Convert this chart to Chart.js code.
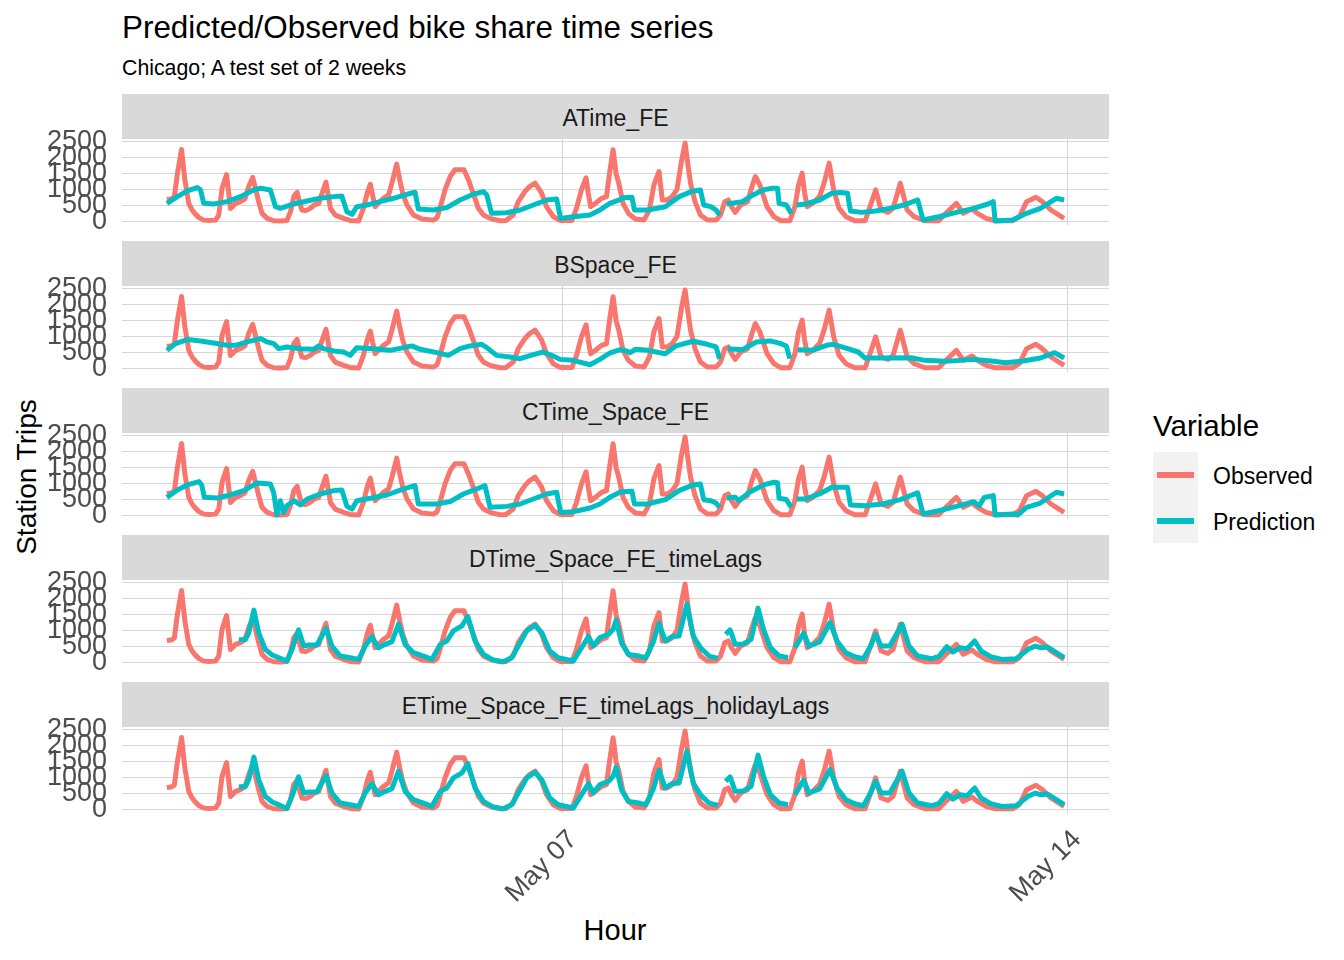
<!DOCTYPE html>
<html>
<head>
<meta charset="utf-8">
<title>Predicted/Observed bike share time series</title>
<script src="https://cdn.jsdelivr.net/npm/chart.js@4.4.1/dist/chart.umd.min.js"></script>
<style>
  body { margin: 0; background: #fff; font-family: "Liberation Sans", Arial, sans-serif; }
  #fig { position: relative; width: 1344px; height: 960px; overflow: hidden; background: #fff; }
  .txt { position: absolute; white-space: nowrap; line-height: 1; color: #000; }
  .strip { position: absolute; left: 122px; width: 987px; height: 45px; background: #D9D9D9; box-sizing: border-box;
           padding-top: 3px; color: #1A1A1A; font-size: 23px; display: flex; align-items: center; justify-content: center; }
  canvas { position: absolute; left: 0; }
</style>
</head>
<body>
<div id="fig">
  <div class="txt" style="left:122px;top:12px;font-size:31.4px;">Predicted/Observed bike share time series</div>
  <div class="txt" style="left:122px;top:58px;font-size:21.3px;">Chicago; A test set of 2 weeks</div>
  <div class="txt" style="left:27px;top:477px;font-size:28px;transform:translate(-50%,-50%) rotate(-90deg);">Station Trips</div>
  <div class="txt" style="left:615px;top:930px;font-size:29px;transform:translate(-50%,-50%);">Hour</div>

  <!-- legend -->
  <div class="txt" style="left:1153px;top:411px;font-size:29.5px;">Variable</div>
  <div style="position:absolute;left:1153px;top:452px;width:45px;height:91px;background:#F2F2F2;"></div>
  <div id="keyObs" style="position:absolute;left:1157px;top:472px;width:37px;height:6px;"></div>
  <div id="keyPred" style="position:absolute;left:1157px;top:518px;width:37px;height:6px;"></div>
  <div class="txt" style="left:1213px;top:465px;font-size:23px;">Observed</div>
  <div class="txt" style="left:1213px;top:511px;font-size:23px;">Prediction</div>
</div>

<script>
"use strict";

// x = hours since 2018-05-01 00:00 (hourly test set, May 1 12:00 -> May 13 23:00)
const xTickHours = [144, 312];
const xTickLabels = ["May 07", "May 14"];
const yTicks = [0, 500, 1000, 1500, 2000, 2500];

const panelNames = ["ATime_FE", "BSpace_FE", "CTime_Space_FE",
                    "DTime_Space_FE_timeLags", "ETime_Space_FE_timeLags_holidayLags"];
const seriesNames = ["Observed", "Prediction"];

// observed trips [hour, trips]
const observed = [[12,680],[13.5,700],[14.5,760],[15.5,1500],[16.9,2260],[18,1300],[19.3,560],[20.4,350],[21.5,220],[22.7,110],[24.3,30],[26,20],[28.2,30],[29.3,190],[30.4,1040],[31.9,1470],[33.2,400],[34.9,560],[36.5,614],[38,700],[39.3,1100],[40.6,1380],[41.6,1000],[42.6,614],[43.7,244],[45.4,85],[47.6,10],[50,0],[52,15],[53.2,297],[54.3,773],[55.4,910],[56.2,600],[57,350],[58.3,330],[59.8,402],[61,500],[62.6,560],[63.8,900],[65,1228],[65.8,800],[66.5,400],[68.1,190],[70.9,85],[73,20],[75.9,0],[77.5,400],[78.8,900],[79.8,1165],[80.6,800],[81.4,455],[82.5,560],[84.2,720],[85.9,826],[87,1200],[88.6,1800],[89.6,1300],[90.6,880],[92,508],[94.2,190],[97,64],[100.8,30],[102,100],[103,400],[104.7,985],[106.4,1408],[108,1620],[111,1620],[112.5,1300],[114.1,880],[115.8,402],[117.5,190],[119.7,85],[123,10],[125,15],[127.4,190],[129.1,614],[131.3,932],[133,1100],[134.7,1197],[136.9,880],[138.5,455],[140.8,138],[143,20],[147,20],[148.5,402],[150.2,1000],[151.7,1370],[152.4,900],[153.2,455],[154.8,560],[156.9,720],[158.5,773],[159.5,1500],[160.7,2255],[161.7,1500],[162.6,1197],[164,560],[165.8,244],[168.1,64],[171,32],[172.8,350],[174.3,1144],[176,1567],[177.1,667],[178.7,667],[180.4,773],[182,1000],[183.5,1900],[184.7,2467],[185.6,1800],[186.5,1197],[188,614],[189.8,190],[192.1,32],[195,32],[196.5,190],[197.9,614],[199.1,667],[200.2,450],[201.4,275],[203.2,508],[205.5,614],[207,1100],[208.1,1408],[209.6,1144],[212,455],[214.3,138],[216.6,10],[219.6,10],[221.3,455],[222.5,1144],[223.7,1514],[224.5,900],[225.4,455],[227.2,560],[229.5,773],[231,1200],[232.7,1832],[234.2,985],[236,402],[238.3,138],[241.2,10],[244.7,10],[246.5,508],[248.2,985],[250,350],[252.3,275],[254,402],[256.4,1197],[258.7,350],[261,138],[264.6,10],[269.2,10],[271.6,244],[275.1,560],[277.4,244],[280.3,380],[282.1,244],[285,85],[288,10],[293.8,10],[296.1,138],[298.5,614],[301.6,752],[303.7,614],[306.6,350],[311,85]];

// predictions per model [hour, trips]; null = missing
const predA = [[12,560],[15.5,773],[18.8,953],[22.1,1059],[23.2,985],[24.3,560],[27.6,540],[32.1,614],[36.5,773],[40.9,985],[43.2,1038],[46.5,985],[48.2,455],[49.8,402],[54.3,540],[58.7,635],[63.1,720],[67.6,773],[70.3,794],[72,297],[73.7,212],[75.3,455],[78.7,508],[83.1,614],[87.5,720],[92,847],[94.7,910],[95.8,380],[100.8,350],[105.3,424],[109.7,667],[114.1,847],[117.5,932],[118.6,826],[120.2,244],[125.2,265],[129.7,350],[134.1,508],[138.5,667],[141.9,700],[143.2,85],[147.4,138],[153,190],[156.3,350],[159.6,560],[163,680],[164,741],[167,752],[167.8,350],[172.2,350],[178.1,455],[182.7,773],[187.4,953],[189.8,985],[190.9,508],[193.3,455],[195,350],[196.2,190],[197.3,null],[198.5,540],[203.8,614],[207.3,826],[210.8,985],[213.7,1038],[215.5,1038],[216,560],[218.4,508],[220.1,244],[221,null],[221.9,508],[224.8,540],[229.5,667],[233.6,880],[236.5,900],[238.8,880],[239.8,318],[243.5,275],[248.2,318],[252.9,402],[257.6,508],[262.2,667],[264,32],[269.2,138],[275.1,275],[280.9,402],[285.6,540],[287.4,614],[288,0],[293.8,32],[298.5,244],[303.1,402],[308.4,720],[311,667]];

const predB = [[12,560],[14.9,773],[18.8,900],[23.2,858],[27.6,794],[32.1,720],[34.9,720],[38.7,826],[43.2,932],[45.4,826],[47.6,773],[49.3,614],[52,667],[56.5,614],[60.9,593],[62.6,700],[64.2,614],[67.6,540],[70.9,508],[73.1,402],[75.3,646],[80.9,614],[86.4,560],[90.9,646],[93.6,700],[96.4,593],[102,487],[105.8,402],[109.7,614],[113,700],[116.9,752],[118.6,646],[121.9,402],[126.3,350],[129.7,297],[134.1,424],[137.4,508],[140.8,380],[143,275],[147.4,244],[153,106],[156.3,275],[159.6,476],[163,580],[164.6,560],[166.4,487],[168.1,593],[172.2,560],[178.1,455],[181.6,700],[187.4,847],[192.1,752],[195,667],[196.2,297],[197.3,null],[198.9,614],[203.8,582],[208.5,826],[213.1,858],[216.6,773],[218.4,700],[219.6,297],[221,null],[222.3,582],[227.2,560],[231.8,720],[234.2,752],[238.8,614],[242.4,508],[244.7,318],[250.5,318],[259.9,328],[264.6,244],[271.6,212],[280.9,275],[286.8,222],[291.5,170],[297.3,222],[303.1,318],[307.8,487],[311,318]];

const predC = [[12,560],[15.5,794],[18.8,953],[22.7,1059],[23.6,950],[24.5,560],[28.8,540],[33.2,635],[37.6,773],[42.1,1017],[46.5,985],[47.6,700],[48.7,0],[49.8,455],[50.9,85],[52,297],[54.3,455],[56.5,318],[58.7,508],[63.1,667],[67.6,773],[70.3,794],[72,275],[73.7,190],[75.3,455],[79.8,530],[85.3,635],[90.9,826],[94.7,932],[95.8,350],[102,350],[106.4,424],[110.8,667],[115.3,826],[118,932],[119.7,244],[125.2,275],[129.7,350],[134.1,508],[138.5,667],[141.9,720],[143.2,85],[147.4,106],[153,222],[156.3,350],[159.6,560],[163,720],[164,741],[167,752],[167.8,350],[172.2,350],[178.1,487],[182.7,773],[187.4,953],[189.8,985],[190.9,487],[193.3,455],[195,380],[196.2,244],[197.3,null],[198.5,540],[201.4,560],[202.6,455],[206.1,720],[210.8,953],[214.3,1038],[215.5,1020],[216,530],[218.4,490],[220.1,244],[221,null],[221.9,508],[224.8,508],[229.5,667],[233.6,880],[238.8,880],[239.8,318],[244.7,297],[250.5,350],[256.4,487],[262.2,700],[264,32],[269.2,138],[275.1,275],[280.9,424],[282.7,297],[284.4,560],[287.4,614],[288,0],[293.8,32],[295.5,0],[298.5,244],[303.1,380],[308.4,720],[311,667]];

const predD = [[36,700],[38.2,720],[39.3,932],[41,1641],[42.6,932],[44.8,402],[47.1,222],[49.8,116],[52,32],[53.7,402],[55.9,1017],[57.6,508],[59.3,540],[62,540],[63.5,800],[65.1,1059],[67,508],[69.8,190],[73.1,138],[75.9,85],[78.1,508],[80.3,805],[82.5,455],[84.8,560],[87,646],[89.2,1197],[91.4,560],[94.2,297],[97.5,190],[100.3,85],[103.1,560],[105.3,667],[107.5,985],[110.3,1144],[112.3,1440],[114.7,667],[117.5,244],[120.8,64],[124.1,10],[126.9,138],[129.1,508],[131.9,985],[134.7,1165],[136.9,932],[139.6,350],[142.4,138],[147.4,32],[150.2,455],[152.5,805],[154.1,508],[156.3,773],[159.2,880],[160.7,1038],[161.7,1324],[163.5,614],[165.8,244],[169.3,190],[171.6,138],[174,614],[176,1228],[178.1,667],[180.4,805],[182.7,826],[185.3,1832],[187.4,826],[189.8,455],[192.7,190],[195.6,116],[196.5,null],[198.2,880],[199.7,1017],[201.4,560],[203.8,560],[206.7,720],[209,1705],[210.8,1038],[213.1,455],[216.1,190],[219,138],[220,null],[221.3,455],[224.2,910],[226,508],[229.5,635],[233,1250],[235.3,667],[238.3,297],[241.2,170],[244.1,106],[246.5,508],[248.2,880],[250,508],[252.9,508],[257,1197],[259.3,508],[262.2,190],[266.9,106],[269.2,170],[271.9,487],[273.9,318],[276.3,455],[278.6,424],[281.2,667],[283.3,350],[286.8,159],[290.3,85],[295,106],[299,402],[301.4,508],[303.1,455],[305.5,476],[311,138]];

const predE = [[36,700],[38.2,720],[39.3,932],[41,1641],[42.6,932],[44.8,402],[47.1,222],[49.8,116],[52,20],[53.7,402],[55.9,1017],[57.6,508],[59.3,540],[62,540],[63.5,800],[65.1,1059],[67,508],[69.8,190],[73.1,138],[75.9,85],[78.1,508],[80.3,805],[82.5,455],[84.8,560],[87,646],[89.2,1197],[91.4,560],[94.2,297],[97.5,190],[100.3,85],[103.1,560],[105.3,667],[107.5,985],[110.3,1144],[112.3,1440],[114.7,667],[117.5,244],[120.8,64],[124.1,10],[126.9,138],[129.1,508],[131.9,985],[134.7,1165],[136.9,932],[139.6,350],[142.4,138],[147.4,32],[150.2,455],[152.5,805],[154.1,508],[156.3,773],[159.2,880],[160.7,1038],[161.7,1324],[163.5,614],[165.8,244],[169.3,190],[171.6,138],[174,614],[176,1228],[178.1,667],[180.4,805],[182.7,826],[185.3,1832],[187.4,826],[189.8,455],[192.7,190],[195.6,116],[196.5,null],[198.2,880],[199.7,1017],[201.4,560],[203.8,560],[206.7,720],[209,1705],[210.8,1038],[213.1,455],[216.1,190],[219,138],[220,null],[221.3,455],[224.2,910],[226,508],[229.5,635],[233,1250],[235.3,667],[238.3,297],[241.2,170],[244.1,106],[246.5,508],[248.2,880],[250,508],[252.9,508],[257,1197],[259.3,508],[262.2,190],[266.9,106],[269.2,170],[271.9,487],[273.9,318],[276.3,455],[278.6,424],[281.2,667],[283.3,350],[286.8,159],[290.3,85],[295,106],[299,402],[301.4,508],[303.1,455],[305.5,476],[311,138]];

const predictions = [predA, predB, predC, predD, predE];

// ggplot default hue colours
const obsColor = "#F8766D";
const predColor = "#00BFC4";
const gridColor = "#D6D6D6";
const tickColor = "#4D4D4D";

Chart.defaults.font.family = "'Liberation Sans', Arial, sans-serif";

document.getElementById("keyObs").style.background = obsColor;
document.getElementById("keyPred").style.background = predColor;

function toXY(arr) {
  return arr.map(function (p) { return { x: p[0], y: p[1] }; });
}

const fig = document.getElementById("fig");

panelNames.forEach(function (name, i) {
  const last = i === panelNames.length - 1;
  const stripTop = 94 + 147 * i;
  const plotTop = stripTop + 45;
  const plotH = 86;
  // padding must exceed the y labels' own padding (half label + tick padding)
  const padTop = 34, padBottom = last ? 0 : 34, axisH = last ? 120 : 0;

  const strip = document.createElement("div");
  strip.className = "strip";
  strip.style.top = stripTop + "px";
  strip.textContent = name;
  fig.appendChild(strip);

  const cv = document.createElement("canvas");
  cv.width = 1129;
  cv.height = padTop + plotH + padBottom + axisH;
  cv.style.width = cv.width + "px";
  cv.style.height = cv.height + "px";
  cv.style.top = (plotTop - padTop) + "px";
  fig.appendChild(cv);

  new Chart(cv.getContext("2d"), {
    type: "line",
    data: {
      datasets: [{
        label: seriesNames[0],
        data: toXY(observed),
        borderColor: obsColor,
        borderWidth: 5,
        order: 1
      }, {
        label: seriesNames[1],
        data: toXY(predictions[i]),
        borderColor: predColor,
        borderWidth: 5,
        order: 0
      }]
    },
    options: {
      responsive: false,
      animation: false,
      devicePixelRatio: 1,
      layout: { padding: { top: padTop, bottom: padBottom, left: 0, right: 20 } },
      elements: {
        point: { radius: 0 },
        line: { tension: 0, borderJoinStyle: "round", fill: false }
      },
      spanGaps: false,
      plugins: { legend: { display: false }, tooltip: { enabled: false } },
      scales: {
        x: {
          type: "linear",
          min: -2.95,
          max: 325.95,
          border: { display: false },
          grid: { color: gridColor, lineWidth: 1, drawTicks: false },
          afterBuildTicks: function (s) { s.ticks = xTickHours.map(function (v) { return { value: v }; }); },
          afterFit: function (s) { s.height = axisH; },
          ticks: {
            display: last,
            autoSkip: false,
            minRotation: 45,
            maxRotation: 45,
            padding: 11,
            labelOffset: 10,
            color: tickColor,
            font: { size: 27 },
            callback: function (v) { return xTickLabels[xTickHours.indexOf(v)]; }
          }
        },
        y: {
          min: -124,
          max: 2594,
          border: { display: false },
          grid: { color: gridColor, lineWidth: 1, drawTicks: false },
          afterBuildTicks: function (s) { s.ticks = yTicks.map(function (v) { return { value: v }; }); },
          afterFit: function (s) { s.width = 122; },
          ticks: {
            autoSkip: false,
            padding: 15,
            color: tickColor,
            font: { size: 27 },
            callback: function (v) { return String(v); }
          }
        }
      }
    }
  });
});
</script>
</body>
</html>
